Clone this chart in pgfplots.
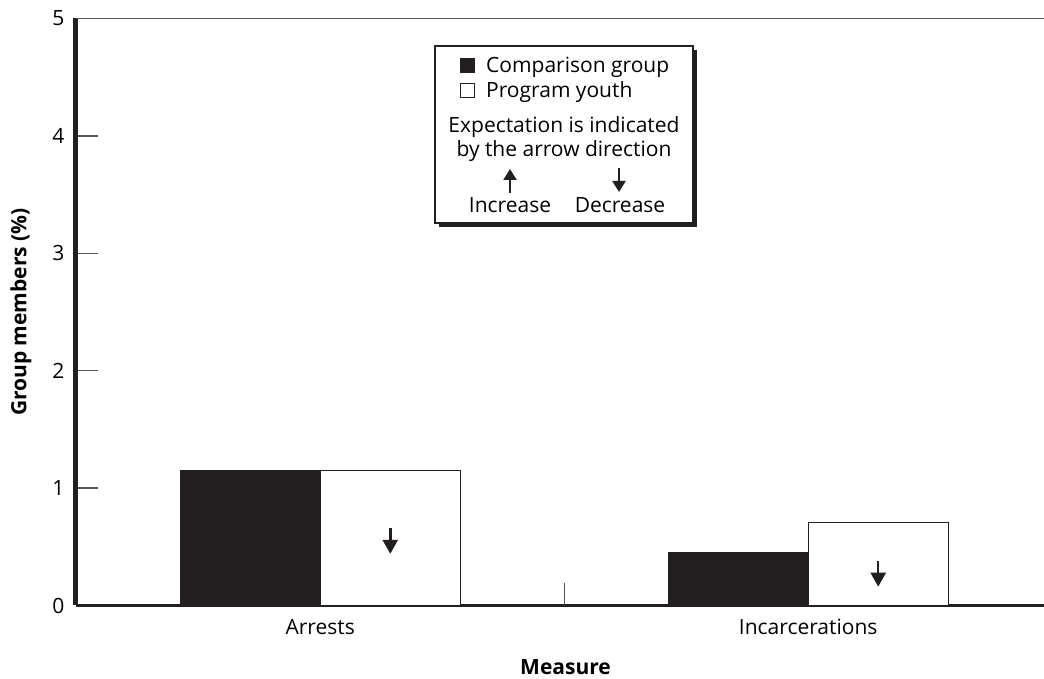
\documentclass[border=0pt]{standalone}
\usepackage{fontspec}
\setmainfont{Open Sans}
\usepackage{pgfplots}
\pgfplotsset{compat=1.18}
\usetikzlibrary{arrows.meta}
\definecolor{dk}{RGB}{35,31,32}
\definecolor{ax}{RGB}{85,85,85}
\begin{document}
\fontsize{21}{25}\selectfont
\begin{tikzpicture}[x=1pt,y=1pt]
\begin{axis}[
  at={(75.5pt,73.5pt)}, anchor=south west,
  scale only axis, width=968.5pt, height=587pt,
  xmin=-0.5015, xmax=1.4832, ymin=0, ymax=5,
  axis x line*=bottom, axis y line*=left,
  x axis line style={-, line width=3.5pt, dk},
  y axis line style={-, line width=4.5pt, dk},
  font=\fontsize{21}{25}\selectfont,
  /pgf/number format/assume math mode=true,
  xtick={0,1}, xticklabels={Arrests, Incarcerations},
  xtick style={draw=none},
  xticklabel style={anchor=base, yshift=-29.5pt},
  extra x ticks={0.5}, extra x tick labels={},
  extra x tick style={xtick style={draw=ax, line width=1.3pt}, major tick length=22pt, tick align=inside},
  ytick={0,1,2,3,4,5},
  ytick style={draw=ax, line width=1.3pt},
  major tick length=22pt, tick align=inside,
  yticklabel style={xshift=-4pt},
  xlabel={\bfseries Measure},
  xlabel style={at={(axis description cs:0.506,-0.1184)}, anchor=base},
  ylabel={\bfseries Group members (\%)},
  ylabel style={at={(axis description cs:-0.0506,0.5)}, anchor=base},
  clip=false,
]
\addplot[ybar, bar width=0.287, bar shift=-0.1435, fill=dk, draw=dk, line width=0.8pt] coordinates {(0,1.15) (1,0.45)};
\addplot[ybar, bar width=0.287, bar shift=0.1435, fill=white, draw=dk, line width=1.2pt] coordinates {(0,1.15) (1,0.71)};
\draw[ax, line width=1.3pt] (rel axis cs:0,1) -- (rel axis cs:1,1);
\draw[dk, line width=2.5pt, -{Triangle[length=14pt,width=15pt]}] (axis cs:0.1435,0.66) -- (axis cs:0.1435,0.44);
\draw[dk, line width=2.5pt, -{Triangle[length=14pt,width=15pt]}] (axis cs:1.1435,0.375) -- (axis cs:1.1435,0.16);
\end{axis}
% legend box
\fill[dk] (439,452) rectangle (697,629);
\filldraw[fill=white, draw=dk, line width=1.3pt] (435,456) rectangle (693,633);
\fill[dk] (460,606) rectangle (475,621);
\draw[dk, line width=1pt] (460.5,581.5) rectangle (474.5,595.5);
\node[anchor=base west, inner sep=0] at (486,606) {Comparison group};
\node[anchor=base west, inner sep=0] at (486,581) {Program youth};
\node[anchor=base, inner sep=0] at (564,546) {Expectation is indicated};
\node[anchor=base, inner sep=0] at (564,522) {by the arrow direction};
\draw[dk, line width=2.2pt, -{Triangle[length=11pt,width=13pt]}] (510,486) -- (510,510);
\draw[dk, line width=2.2pt, -{Triangle[length=11pt,width=13pt]}] (619,511) -- (619,487);
\node[anchor=base, inner sep=0] at (510,466) {Increase};
\node[anchor=base, inner sep=0] at (620,466) {Decrease};
\pgfresetboundingbox
\path[use as bounding box] (0,0) rectangle (1044,679);
\end{tikzpicture}
\end{document}
